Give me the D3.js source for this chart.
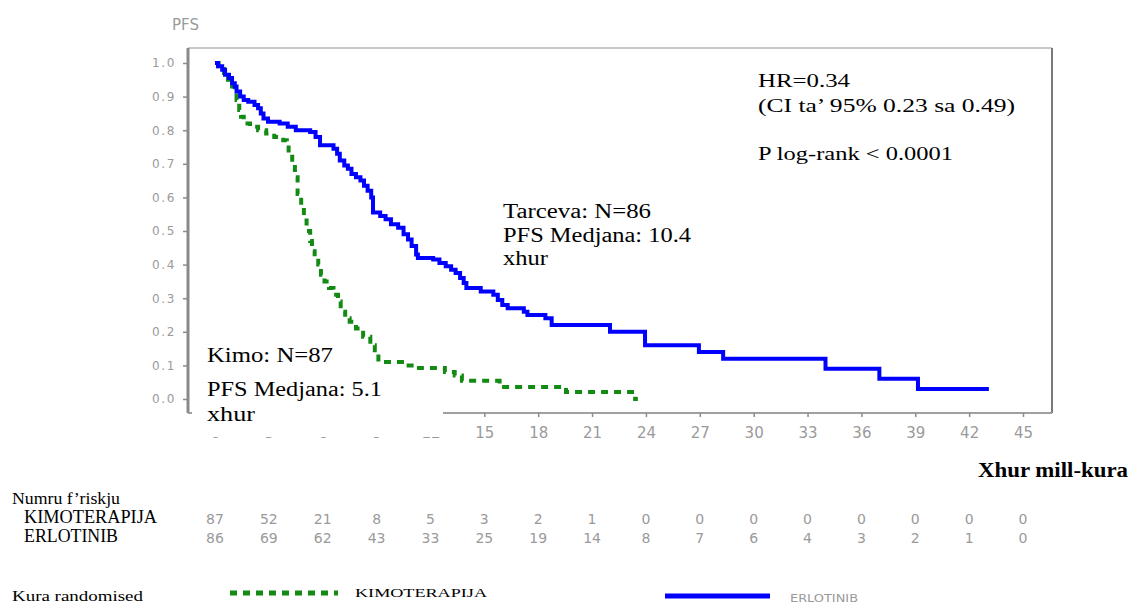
<!DOCTYPE html>
<html>
<head>
<meta charset="utf-8">
<script src="https://cdn.jsdelivr.net/npm/d3@7/dist/d3.min.js"></script>
<style>
html,body{margin:0;padding:0;background:#fff;}
svg{display:block;}
</style>
</head>
<body>
<svg id="chart" width="1131" height="604"></svg>
<script>
// ---------- data ----------
const monthTicks = [0,3,6,9,12,15,18,21,24,27,30,33,36,39,42,45];
const yTicks = [0,0.1,0.2,0.3,0.4,0.5,0.6,0.7,0.8,0.9,1.0];

// Erlotinib (Tarceva) KM curve: event times (months) and survival after step
const erloTime = [0,0.17,0.4,0.56,0.78,0.95,1.1,1.2,1.4,1.6,1.85,2.2,2.4,2.55,2.7,2.95,3.6,4.05,4.5,5.3,5.6,5.85,6.6,6.8,6.95,7.2,7.4,7.6,7.85,8.1,8.3,8.5,8.7,8.8,9.2,9.5,9.8,10.2,10.5,10.75,10.95,11.2,11.3,12.15,12.5,12.85,13.15,13.4,13.65,13.85,14.0,14.8,15.5,15.75,16.0,16.3,17.2,17.4,18.4,18.75,22.0,23.95,26.95,28.3,34.0,37.0,39.15,43.1];
const erloSurv = [1.0,0.99,0.98,0.965,0.955,0.94,0.93,0.915,0.90,0.89,0.885,0.875,0.865,0.85,0.835,0.825,0.82,0.81,0.80,0.795,0.78,0.755,0.745,0.73,0.71,0.695,0.685,0.67,0.66,0.65,0.635,0.62,0.60,0.555,0.545,0.535,0.52,0.51,0.49,0.475,0.455,0.43,0.42,0.415,0.405,0.395,0.385,0.375,0.36,0.345,0.33,0.32,0.31,0.295,0.28,0.27,0.26,0.25,0.24,0.22,0.20,0.16,0.14,0.12,0.09,0.06,0.03,0.03];

// Chemotherapy KM curve
const chemoTime = [0,0.2,0.5,0.72,0.95,1.1,1.2,1.35,1.45,1.6,1.95,2.4,2.85,3.3,3.8,4.0,4.1,4.3,4.45,4.6,4.8,4.95,5.1,5.3,5.4,5.55,5.75,5.9,6.1,6.35,6.6,6.85,7.0,7.25,7.5,7.85,8.25,8.65,8.9,9.1,10.6,11.15,12.8,13.35,13.75,15.85,19.55,23.4,23.55];
const chemoSurv = [1.0,0.99,0.97,0.95,0.93,0.91,0.89,0.86,0.84,0.82,0.81,0.80,0.79,0.78,0.77,0.76,0.73,0.70,0.66,0.61,0.57,0.54,0.50,0.47,0.44,0.42,0.40,0.37,0.35,0.33,0.31,0.29,0.26,0.24,0.23,0.21,0.185,0.16,0.145,0.11,0.10,0.092,0.08,0.07,0.054,0.036,0.021,0.0,0.0];

// numbers at risk
const riskChemo = [87,52,21,8,5,3,2,1,0,0,0,0,0,0,0,0];
const riskErlo  = [86,69,62,43,33,25,19,14,8,7,6,4,3,2,1,0];

// ---------- drawing ----------
const svg = d3.select("#chart");
const x = d3.scaleLinear().domain([0,45]).range([215,1023]);
const y = d3.scaleLinear().domain([0,1]).range([399,63]);

const frame = {left:188, top:48, right:1052, bottom:413};
const axisGray = "#8c8c8c";
const labelGray = "#9a9a9a";
const serif = "'Liberation Serif','Times New Roman',serif";
const sans = "'DejaVu Sans',Verdana,sans-serif";

// frame
svg.append("line").attr("x1",frame.left).attr("x2",frame.right).attr("y1",frame.top).attr("y2",frame.top)
  .attr("stroke","#b5b5b5").attr("stroke-width",1.5);
svg.append("line").attr("x1",frame.right).attr("x2",frame.right).attr("y1",frame.top).attr("y2",frame.bottom)
  .attr("stroke","#7a7a7a").attr("stroke-width",2);
svg.append("line").attr("x1",frame.left).attr("x2",frame.right).attr("y1",frame.bottom).attr("y2",frame.bottom)
  .attr("stroke","#a0a0a0").attr("stroke-width",2);
svg.append("line").attr("x1",frame.left).attr("x2",frame.left).attr("y1",frame.top).attr("y2",frame.bottom)
  .attr("stroke","#8a8a8a").attr("stroke-width",3);

// y axis
const yAxis = svg.append("g").attr("transform",`translate(${frame.left},0)`)
  .call(d3.axisLeft(y).tickValues(yTicks).tickFormat(d3.format(".1f")).tickSize(5).tickPadding(7));
yAxis.select(".domain").remove();
yAxis.selectAll(".tick line").attr("stroke",axisGray).attr("stroke-width",1.5);
yAxis.selectAll(".tick text").attr("fill",labelGray).style("font-family",sans)
  .style("font-size","12px").style("letter-spacing","1.6px");

// x axis
const xAxis = svg.append("g").attr("transform",`translate(0,${frame.bottom})`)
  .call(d3.axisBottom(x).tickValues(monthTicks).tickSize(4).tickPadding(10));
xAxis.select(".domain").remove();
xAxis.selectAll(".tick line").attr("stroke",axisGray).attr("stroke-width",1.5);
xAxis.selectAll(".tick text").attr("fill",labelGray).style("font-family",sans).style("font-size","15px");

// PFS label
svg.append("text").attr("x",172).attr("y",30).text("PFS")
  .attr("fill",labelGray).style("font-family",sans).style("font-size","15px");

// curves
const line = d3.line().x(d=>x(d[0])).y(d=>y(d[1])).curve(d3.curveStepAfter);
const chemoData = chemoTime.map((t,i)=>[t,chemoSurv[i]]);
const erloData = erloTime.map((t,i)=>[t,erloSurv[i]]);

svg.append("path").attr("d",line(chemoData)).attr("fill","none")
  .attr("stroke","#138a13").attr("stroke-width",4).attr("stroke-dasharray","7,6");
svg.append("path").attr("d",line(erloData)).attr("fill","none")
  .attr("stroke","#0000ff").attr("stroke-width",4).attr("stroke-linejoin","miter");

// white box covering the lower-left (as in reference)
svg.append("rect").attr("x",192).attr("y",371).attr("width",251).attr("height",66).attr("fill","#fff");

// annotations
function txt(s, xx, yy, size, len, opts={}) {
  const t = svg.append("text").attr("x",xx).attr("y",yy).text(s)
    .attr("fill", opts.fill || "#000")
    .style("font-family", opts.family || serif)
    .style("font-size", size+"px");
  if (opts.weight) t.style("font-weight", opts.weight);
  if (len) t.attr("textLength",len).attr("lengthAdjust","spacingAndGlyphs");
  return t;
}
txt("HR=0.34", 758, 87, 19, 92);
txt("(CI ta\u2019 95%  0.23 sa 0.49)", 758, 112, 19, 257);
txt("P log-rank < 0.0001", 758, 160, 19, 195);

txt("Tarceva: N=86", 503, 218, 20, 148);
txt("PFS Medjana: 10.4", 503, 242, 20, 188);
txt("xhur", 503, 265, 20, 45);

txt("Kimo: N=87", 207, 362, 20, 126);
txt("PFS Medjana: 5.1", 207, 396, 20, 175);
txt("xhur", 207, 421, 20, 48);

txt("Xhur mill-kura", 978, 477, 20, 150, {weight:"bold"});

// risk table
txt("Numru f\u2019riskju", 12, 504, 16, 108);
txt("KIMOTERAPIJA", 24, 523, 18, 133);
txt("ERLOTINIB", 24, 542, 18, 94);

svg.append("g").selectAll("text").data(riskChemo).join("text")
  .attr("x",(d,i)=>x(monthTicks[i])).attr("y",524).attr("text-anchor","middle")
  .text(d=>d).attr("fill",labelGray).style("font-family",sans).style("font-size","14px");
svg.append("g").selectAll("text").data(riskErlo).join("text")
  .attr("x",(d,i)=>x(monthTicks[i])).attr("y",543).attr("text-anchor","middle")
  .text(d=>d).attr("fill",labelGray).style("font-family",sans).style("font-size","14px");

// legend
txt("Kura randomised", 12, 601, 15, 131);
svg.append("line").attr("x1",230).attr("x2",338).attr("y1",593).attr("y2",593)
  .attr("stroke","#138a13").attr("stroke-width",5).attr("stroke-dasharray","7,6");
txt("KIMOTERAPIJA", 355, 597, 13, 132);
svg.append("line").attr("x1",665).attr("x2",770).attr("y1",596).attr("y2",596)
  .attr("stroke","#0000ff").attr("stroke-width",5);
txt("ERLOTINIB", 790, 602, 11, 68, {fill:"#9a9a9a", family:sans});
</script>
</body>
</html>
